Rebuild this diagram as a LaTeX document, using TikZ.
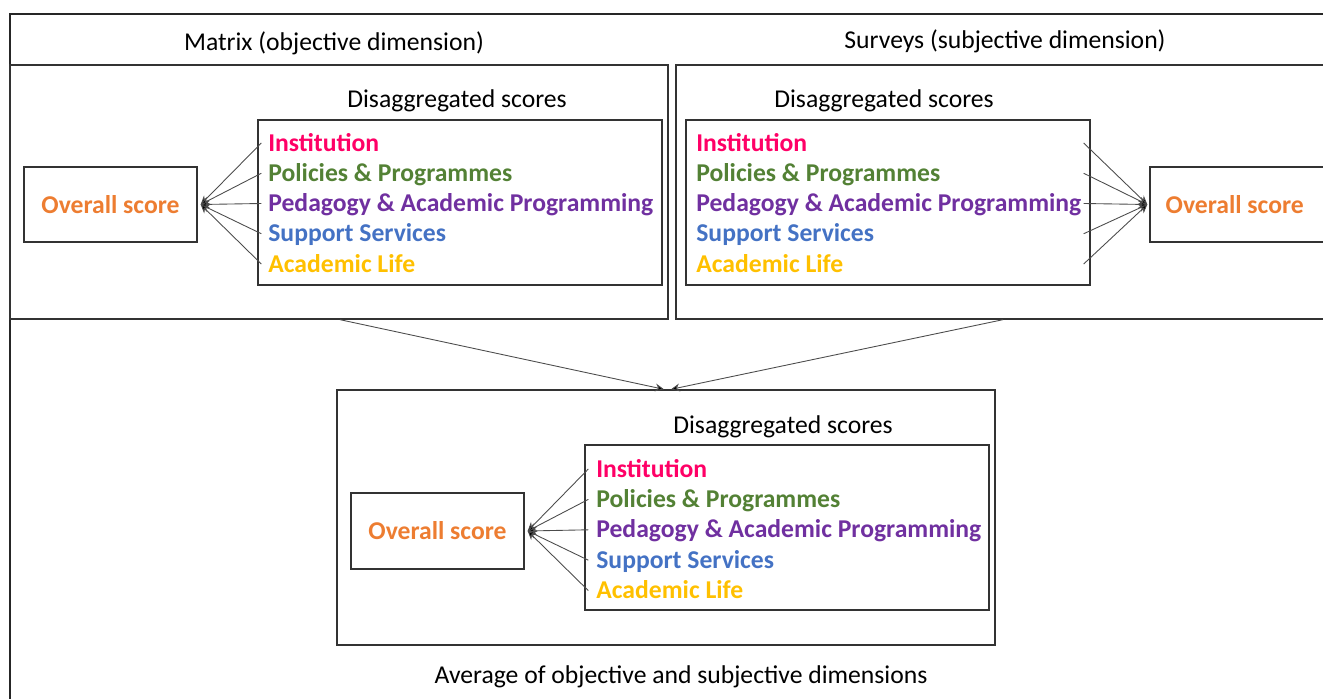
\documentclass[tikz,border=0pt]{standalone}
\usepackage{fontspec}
\setmainfont{Carlito}
\usepackage{xcolor}
\usepackage{tikz}
\usetikzlibrary{arrows, arrows.meta, positioning, calc}
\tikzstyle{arrow} = [->,>={Stealth[length=5pt,width=4.5pt,fill=black]}, black!70, line width=0.5pt]

\definecolor{instcol}{HTML}{FF0066}
\definecolor{polcol}{HTML}{538135}
\definecolor{pedcol}{HTML}{7030A0}
\definecolor{supcol}{HTML}{4472C4}
\definecolor{acadcol}{HTML}{FFC000}
\definecolor{overcol}{HTML}{ED7D31}

\begin{document}
\begin{tikzpicture}[x=0.02cm, y=-0.02cm, font=\fontsize{14.6}{17}\selectfont,
  frame/.style={draw=black!80, line width=0.8pt, inner sep=0pt},
  panel/.style={frame, minimum width=13.16cm, minimum height=5.08cm},
  listbox/.style={frame, minimum width=8.08cm, minimum height=3.3cm},
  overbox/.style={frame, minimum width=3.46cm, minimum height=1.5cm, text=overcol, font=\fontsize{14.6}{17}\selectfont\bfseries},
  item/.style={anchor=west, inner sep=0pt, text height=10pt, text depth=3pt, font=\fontsize{14.6}{17}\selectfont\bfseries}]
\useasboundingbox (0,0) rectangle (1323,699);
\clip (0,0) rectangle (1323,699);

% Outer frame
\draw[black!85, line width=0.9pt] (10,14) rectangle (1340,715);

% Headings
\node (matrixtitle) at (334,43) {Matrix (objective dimension)};
\node (surveytitle) at (1005,41) {Surveys (subjective dimension)};

% Panels
\node[panel] (leftpanel) at (339,192) {};
\node[panel, minimum width=13.08cm] (rightpanel) at (1003,192) {};
\node[panel, minimum height=5.1cm] (botpanel) at (666,517.5) {};

% Matrix panel
\node (disA) at (457,101) {Disaggregated scores};
\node[listbox] (listA) at (460,202.5) {};
\node[overbox] (overA) at (110.5,204.5) {Overall score};

% Surveys panel
\node (disB) at (884,101) {Disaggregated scores};
\node[listbox] (listB) at (888,202.5) {};
\node[overbox, minimum width=3.6cm] (overB) at (1240,204.5) {\hspace*{-6pt}Overall score};

% Average panel
\node (disC) at (783,427) {Disaggregated scores};
\node[listbox] (listC) at (787,527.5) {};
\node[overbox, minimum height=1.52cm] (overC) at (437.5,531) {Overall score};

\node (avgtitle) at (681,677) {Average of objective and subjective dimensions};

% Score items
\foreach \i/\c/\t in {1/instcol/Institution, 2/polcol/Policies \& Programmes,
    3/pedcol/Pedagogy \& Academic Programming, 4/supcol/Support Services,
    5/acadcol/Academic Life} {
  \node[item, text=\c] (itemA\i) at (268,{145+30.25*(\i-1)}) {\t};
  \node[item, text=\c] (itemB\i) at (696,{145+30.25*(\i-1)}) {\t};
  \node[item, text=\c] (itemC\i) at (596,{471+30.4*(\i-1)}) {\t};
  \draw[arrow] ($(listA.west |- itemA\i)+(4,-2)$) -- ($(overA.east)+(3,0)$);
  \draw[arrow] ($(listB.east |- itemB\i)+(-7,-2)$) -- ($(overB.west)+(-2,0)$);
  \draw[arrow] ($(listC.west |- itemC\i)+(4,-2)$) -- ($(overC.east)+(3,0)$);
}

% Panels to average
\draw[arrow] ($(leftpanel.south)+(1,0)$) -- ($(botpanel.north)+(-2,0)$);
\draw[arrow] (rightpanel.south) -- ($(botpanel.north)+(5,0)$);
\end{tikzpicture}
\end{document}
